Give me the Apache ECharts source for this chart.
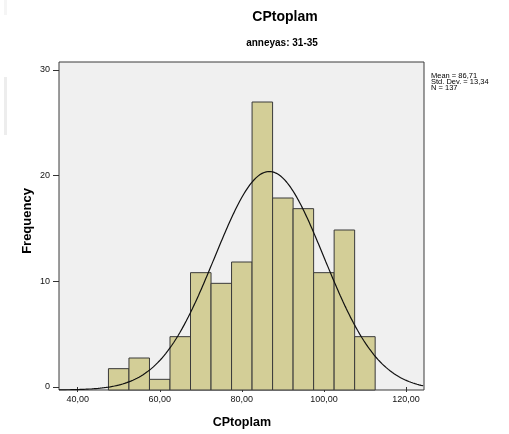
<!DOCTYPE html>
<html>
<head>
<meta charset="utf-8">
<script src="https://cdn.jsdelivr.net/npm/echarts@6/dist/echarts.min.js"></script>
<style>
  html, body { margin: 0; padding: 0; background: #ffffff; }
  #chart { width: 509px; height: 434px; }
</style>
</head>
<body>
<div id="chart"></div>
<script>
// Histogram bins (centres) and their counts
const binCenters = [50, 55, 60, 65, 70, 75, 80, 85, 90, 95, 100, 105, 110];
const frequencies = [2, 3, 1, 5, 11, 10, 12, 27, 18, 17, 11, 15, 5];
const binWidth = 5;

// Summary statistics shown beside the plot
const statMean = 86.71;
const statStdDev = 13.34;
const statN = 137;

// Axis ranges
const xRange = [35.45, 124.4];
const yRange = [0, 30.75];
const xTickRange = [40, 120];
const yTickRange = [0, 30];

const FONT = '"Liberation Sans", Arial, sans-serif';
const fmtComma = (v, d) => v.toFixed(d).replace('.', ',');

// Fitted normal curve, scaled to the histogram's counts
const curve = [];
for (let x = xRange[0]; x <= xRange[1] + 1e-9; x += 0.25) {
  const z = (x - statMean) / statStdDev;
  const dens = Math.exp(-0.5 * z * z) / (statStdDev * Math.sqrt(2 * Math.PI));
  curve.push([x, statN * binWidth * dens]);
}

const bars = binCenters.map((c, i) => [c, frequencies[i]]);

const chart = echarts.init(document.getElementById('chart'), null, { renderer: 'canvas' });

const txt = (text, x, y, size, bold, align, rot) => ({
  type: 'text', x: x, y: y, rotation: rot || 0, silent: true,
  style: {
    text: text, fill: '#000',
    font: (bold ? 'bold ' : '') + size + 'px ' + FONT,
    textAlign: align || 'center', align: align || 'center',
    textVerticalAlign: 'middle', verticalAlign: 'middle'
  }
});

chart.setOption({
  animation: false,
  backgroundColor: '#ffffff',
  grid: [
    { left: 59, top: 62, width: 365, height: 328, show: true,
      backgroundColor: '#f0f0f0', borderColor: '#3a3a3a', borderWidth: 1 },
    { left: 77.7, top: 70, width: 328.3, height: 320 }
  ],
  xAxis: [
    { gridIndex: 0, type: 'value', min: xRange[0], max: xRange[1],
      show: false, splitLine: { show: false } },
    { gridIndex: 1, type: 'value', min: xTickRange[0], max: xTickRange[1], interval: 20,
      axisLine: { show: false },
      axisTick: { show: true, inside: false, length: 5, lineStyle: { color: '#333', width: 1 } },
      axisLabel: { margin: 8, fontSize: 9, fontFamily: FONT, color: '#111',
        formatter: v => fmtComma(v, 2) },
      splitLine: { show: false },
      name: 'CPtoplam', nameLocation: 'middle', nameGap: 29,
      nameTextStyle: { fontSize: 12.5, fontWeight: 'bold', fontFamily: FONT, color: '#000' } }
  ],
  yAxis: [
    { gridIndex: 0, type: 'value', min: yRange[0], max: yRange[1],
      show: false, splitLine: { show: false } },
    { gridIndex: 1, type: 'value', min: yTickRange[0], max: yTickRange[1], interval: 10,
      offset: 18.7,
      axisLine: { show: false },
      axisTick: { show: true, inside: false, length: 6, lineStyle: { color: '#333', width: 1 } },
      axisLabel: { margin: 9, fontSize: 9, fontFamily: FONT, color: '#111' },
      splitLine: { show: false } }
  ],
  series: [
    {
      type: 'custom',
      xAxisIndex: 0, yAxisIndex: 0,
      data: bars,
      z: 2,
      renderItem: (params, api) => {
        const c = api.value(0);
        const f = api.value(1);
        const p0 = api.coord([c - binWidth / 2, f]);
        const p1 = api.coord([c + binWidth / 2, 0]);
        return {
          type: 'rect',
          shape: { x: p0[0], y: p0[1], width: p1[0] - p0[0], height: p1[1] - p0[1] },
          style: { fill: '#d3ce97', stroke: '#3a3a3a', lineWidth: 1 }
        };
      }
    },
    {
      type: 'line',
      xAxisIndex: 0, yAxisIndex: 0,
      data: curve,
      showSymbol: false,
      smooth: false,
      clip: true,
      z: 3,
      lineStyle: { color: '#111', width: 1.2 }
    }
  ],
  graphic: [
    txt('CPtoplam', 285, 17, 14, true),
    txt('anneyas: 31-35', 282, 43, 10, true),
    txt('Frequency', 27, 221, 13, true, 'center', Math.PI / 2),
    txt('Mean = ' + fmtComma(statMean, 2), 431, 75.8, 7.5, false, 'left'),
    txt('Std. Dev. = ' + fmtComma(statStdDev, 2), 431, 82.1, 7.5, false, 'left'),
    txt('N = ' + statN, 431, 88.4, 7.5, false, 'left'),
    { type: 'rect', silent: true, shape: { x: 4, y: 77, width: 3, height: 58 },
      style: { fill: '#ededed' } },
    { type: 'rect', silent: true, shape: { x: 4, y: 0, width: 3, height: 15 },
      style: { fill: '#f5f5f5' } }
  ]
});
</script>
</body>
</html>
